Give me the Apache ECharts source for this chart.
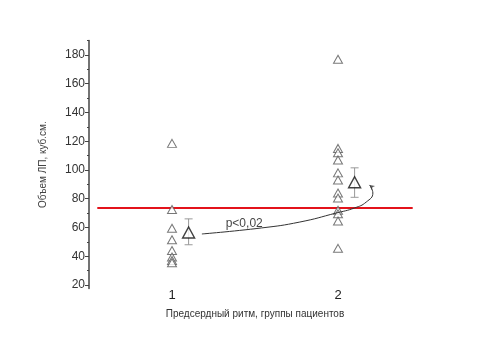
<!DOCTYPE html>
<html><head><meta charset="utf-8">
<script src="https://cdn.jsdelivr.net/npm/echarts@6/dist/echarts.min.js"></script>
<style>html,body{margin:0;padding:0;background:#fff}#c{width:494px;height:346px}</style>
</head><body><div id="c"></div>
<script>
var groupPositions = [1, 2];
var group1Values = [118.5, 72.5, 59.5, 51.5, 44, 39.5, 37, 35.5];
var group2Values = [177, 115, 112, 107, 98, 93, 84, 80.5, 72, 69.5, 64.5, 45.5];
var meanX = [1.1, 2.1];
var meanValues = [56.5, 91.5];
var errLow = [48, 81];
var errHigh = [66, 101.5];
var thresholdValue = 73.5;
var thresholdX = [0.55, 2.45];
var curveX = [1.18, 1.54, 1.77, 1.99, 2.10, 2.17, 2.21, 2.19];
var curveY = [55.5, 59.7, 63.8, 70.1, 73.6, 77.7, 84.0, 89.6];
var pText = 'p<0,02';
var pPos = [1.435, 62.5];
var yLabels = [20, 40, 60, 80, 100, 120, 140, 160, 180];
var yMinor = [30, 50, 70, 90, 110, 130, 150, 170, 190];
var xLabels = ['1', '2'];

var pts1 = group1Values.map(function(v){return [groupPositions[0], v];});
var pts2 = group2Values.map(function(v){return [groupPositions[1], v];});
var means = meanValues.map(function(v,i){return [meanX[i], v];});
var errs = meanValues.map(function(v,i){return [meanX[i], errLow[i], errHigh[i]];});
var curve = curveX.map(function(x,i){return [x, curveY[i]];});

var chart = echarts.init(document.getElementById('c'));
var font = 'Liberation Sans, Arial, sans-serif';
chart.setOption({
  backgroundColor: '#fff',
  animation: false,
  grid: {left: 89, right: 73, top: 40.6, bottom: 57.4},
  xAxis: {
    type: 'value', min: 0.5, max: 2.5,
    axisLine: {show: false}, axisTick: {show: false}, splitLine: {show: false},
    axisLabel: {customValues: groupPositions, formatter: function(v){return xLabels[Math.round(v)-1];}, color: '#222', fontSize: 13, fontFamily: font, margin: 0},
    name: 'Предсердный ритм, группы пациентов', nameLocation: 'middle', nameGap: 21,
    nameTextStyle: {color: '#333', fontSize: 10, fontFamily: font}
  },
  yAxis: [{
    type: 'value', min: 17.5, max: 190,
    axisLine: {show: true, lineStyle: {color: '#444', width: 1.5}},
    axisTick: {show: true, inside: false, length: 4, customValues: yLabels, lineStyle: {color: '#444', width: 1}},
    axisLabel: {customValues: yLabels, color: '#333', fontSize: 12, fontFamily: font, margin: 4},
    splitLine: {show: false},
    name: 'Объем ЛП, куб.см.', nameLocation: 'middle', nameGap: 41, nameRotate: 90,
    nameTextStyle: {color: '#444', fontSize: 10, fontFamily: font}
  }, {
    type: 'value', min: 17.5, max: 190, position: 'left',
    axisLine: {show: false},
    axisTick: {show: true, inside: false, length: 2, customValues: yMinor, lineStyle: {color: '#444', width: 1}},
    axisLabel: {show: false}, splitLine: {show: false}
  }],
  series: [
    {type: 'line', data: [[thresholdX[0], thresholdValue], [thresholdX[1], thresholdValue]], symbol: 'none',
     lineStyle: {color: '#e3131b', width: 2}, z: 1},
    {type: 'scatter', data: pts1, symbol: 'triangle', symbolSize: [9, 8],
     itemStyle: {color: '#fff', borderColor: '#555', borderWidth: 1}, z: 3},
    {type: 'scatter', data: pts2, symbol: 'triangle', symbolSize: [9, 8],
     itemStyle: {color: '#fff', borderColor: '#555', borderWidth: 1}, z: 3},
    {type: 'custom', data: errs, z: 2,
     renderItem: function(params, api){
       var top = api.coord([api.value(0), api.value(2)]);
       var bot = api.coord([api.value(0), api.value(1)]);
       var w = 4;
       var st = {stroke: '#999', lineWidth: 1};
       return {type: 'group', children: [
         {type: 'line', shape: {x1: top[0], y1: top[1], x2: bot[0], y2: bot[1]}, style: st},
         {type: 'line', shape: {x1: top[0]-w, y1: top[1], x2: top[0]+w, y2: top[1]}, style: st},
         {type: 'line', shape: {x1: bot[0]-w, y1: bot[1], x2: bot[0]+w, y2: bot[1]}, style: st}
       ]};
     }},
    {type: 'scatter', data: means, symbol: 'triangle', symbolSize: [12, 11],
     itemStyle: {color: '#fff', borderColor: '#111', borderWidth: 1.4}, z: 4},
    {type: 'line', data: curve, smooth: 0.5, symbol: 'none',
     lineStyle: {color: '#333', width: 1}, z: 5},
    {type: 'scatter', data: [curve[curve.length-1]], symbol: 'arrow', symbolSize: [4, 5], symbolRotate: 50,
     itemStyle: {color: '#333'}, z: 5},
    {type: 'scatter', data: [pPos], symbolSize: 0, z: 6,
     label: {show: true, position: 'inside', formatter: pText, color: '#111', fontSize: 12, fontFamily: font}}
  ]
});
</script></body></html>
